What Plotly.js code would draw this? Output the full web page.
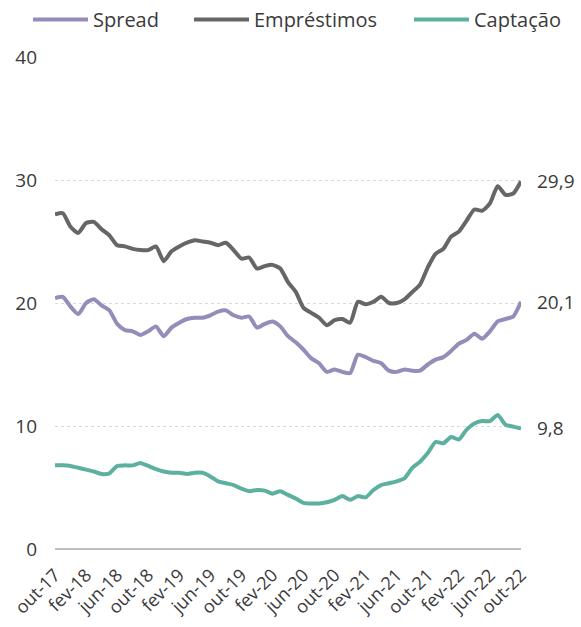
<!DOCTYPE html>
<html>
<head>
<meta charset="utf-8">
<script src="https://cdn.plot.ly/plotly-3.0.1.min.js"></script>
<style>
html,body{margin:0;padding:0;background:#fff;}
#chart{width:581px;height:627px;}
</style>
</head>
<body>
<div id="chart"></div>
<script>
const months = [
 "out-17","nov-17","dez-17","jan-18","fev-18","mar-18","abr-18","mai-18","jun-18","jul-18","ago-18","set-18",
 "out-18","nov-18","dez-18","jan-19","fev-19","mar-19","abr-19","mai-19","jun-19","jul-19","ago-19","set-19",
 "out-19","nov-19","dez-19","jan-20","fev-20","mar-20","abr-20","mai-20","jun-20","jul-20","ago-20","set-20",
 "out-20","nov-20","dez-20","jan-21","fev-21","mar-21","abr-21","mai-21","jun-21","jul-21","ago-21","set-21",
 "out-21","nov-21","dez-21","jan-22","fev-22","mar-22","abr-22","mai-22","jun-22","jul-22","ago-22","set-22",
 "out-22"
];
const tickLabels = ["out-17","fev-18","jun-18","out-18","fev-19","jun-19","out-19","fev-20","jun-20","out-20","fev-21","jun-21","out-21","fev-22","jun-22","out-22"];

const spread = [
 20.4,20.5,19.7,19.1,20.0,20.3,19.8,19.4,18.3,17.8,17.7,17.4,
 17.7,18.1,17.3,18.0,18.4,18.7,18.8,18.8,19.0,19.3,19.4,19.0,
 18.8,18.9,18.0,18.3,18.5,18.1,17.3,16.8,16.2,15.5,15.1,14.4,
 14.6,14.4,14.3,15.8,15.6,15.3,15.1,14.5,14.4,14.6,14.5,14.5,
 15.0,15.4,15.6,16.1,16.7,17.0,17.5,17.1,17.7,18.5,18.7,18.9,
 20.1
];
const emprestimos = [
 27.2,27.3,26.2,25.7,26.5,26.6,26.0,25.5,24.7,24.6,24.4,24.3,
 24.3,24.6,23.4,24.2,24.6,24.9,25.1,25.0,24.9,24.7,24.9,24.3,
 23.6,23.7,22.8,23.0,23.1,22.8,21.7,20.9,19.6,19.2,18.8,18.2,
 18.6,18.7,18.4,20.1,19.9,20.1,20.5,20.0,20.0,20.3,20.9,21.5,
 22.9,24.0,24.4,25.4,25.8,26.7,27.6,27.5,28.1,29.5,28.8,28.9,
 29.9
];
const captacao = [
 6.8,6.8,6.75,6.6,6.45,6.3,6.1,6.15,6.75,6.8,6.8,7.0,
 6.75,6.5,6.3,6.2,6.2,6.1,6.2,6.2,5.9,5.5,5.35,5.2,
 4.9,4.7,4.8,4.75,4.5,4.7,4.4,4.1,3.75,3.7,3.7,3.8,
 4.0,4.3,4.0,4.3,4.2,4.8,5.2,5.35,5.5,5.75,6.6,7.1,
 7.8,8.7,8.6,9.1,8.9,9.7,10.2,10.4,10.4,10.9,10.1,9.95,
 9.8
];
const endLabels = ["20,1","29,9","9,8"];

const FONT = "Open Sans, Noto Sans, sans-serif";
const TXT = "#3a3a3a";
const colors = ["#968cba","#666666","#5bb0a0"];
const names = ["Spread","Empréstimos","Captação"];
const series = [spread, emprestimos, captacao];
const legendIds = ["legend","legend2","legend3"];
const legendX = [28, 189, 409];

const traces = series.map((s,i)=>({
  type:"scatter", mode:"lines", name:names[i], x:months, y:s, legend:legendIds[i],
  line:{color:colors[i], width:4, shape:"spline", smoothing:0.6},
  hoverinfo:"skip"
}));

const annotations = series.map((s,i)=>({
  x: months[months.length-1], y: s[s.length-1], xref:"x", yref:"y",
  text: endLabels[i], showarrow:false, xanchor:"left", yanchor:"middle",
  xshift: 14, font:{family:FONT, size:19, color:TXT}
}));

const layout = {
  width:581, height:627,
  margin:{l:55, r:60, t:57, b:78, pad:0, autoexpand:false},
  paper_bgcolor:"#fff", plot_bgcolor:"#fff",
  font:{family:FONT, color:TXT},
  showlegend:true,
  xaxis:{type:"category", range:[0, months.length-1], tickmode:"array", tickvals:tickLabels, ticktext:tickLabels,
         tickangle:-45, tickfont:{family:FONT, size:18, color:TXT}, showgrid:false, zeroline:false,
         showline:false, ticks:"", ticklabelstandoff:11, automargin:false, fixedrange:true},
  yaxis:{range:[0,40], tickvals:[0,10,20,30,40], ticktext:["0","10","20","30","40"],
         tickfont:{family:FONT, size:19, color:TXT}, showgrid:true, gridcolor:"#d9d9d9", griddash:"dot", gridwidth:1,
         zeroline:true, zerolinecolor:"#bfbfbf", zerolinewidth:1.5, ticks:"", ticklabelstandoff:17, automargin:false, fixedrange:true},
  annotations: annotations
};
legendIds.forEach((id,i)=>{
  layout[id] = {orientation:"h", xref:"container", yref:"container", x:legendX[i]/581, y:1, xanchor:"left", yanchor:"top",
    font:{family:FONT, size:20, color:TXT}, itemwidth:55, bgcolor:"rgba(0,0,0,0)"};
});

Plotly.newPlot("chart", traces, layout, {displayModeBar:false, staticPlot:true});
</script>
</body>
</html>
